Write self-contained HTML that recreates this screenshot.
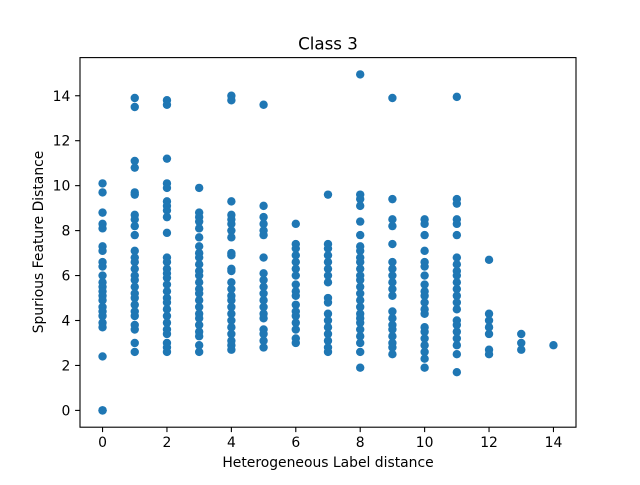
<!DOCTYPE html>
<html><head><meta charset="utf-8"><style>
body{margin:0;background:#fff;}
svg text{font-family:"DejaVu Sans","Liberation Sans",sans-serif;fill:#000;}
</style></head><body>
<svg id="chart" width="640" height="480" xmlns="http://www.w3.org/2000/svg">
<rect width="640" height="480" fill="#fff"/>
<text x="328" y="49.5" font-size="16.7" text-anchor="middle">Class 3</text>
<g id="marks"></g>
<rect x="80" y="57.6" width="496" height="369.6" fill="none" stroke="#000" stroke-width="1.1"/>
<g id="xt"></g>
<g id="yt"></g>
<text x="328" y="467" font-size="13.9" text-anchor="middle">Heterogeneous Label distance</text>
<text transform="translate(43,242) rotate(-90)" font-size="13.9" text-anchor="middle">Spurious Feature Distance</text>
</svg>
<script>
const xTicks=[0,2,4,6,8,10,12,14];
const yTicks=[0,2,4,6,8,10,12,14];
const col0=[10.1,9.7,8.8,8.3,8.1,7.3,7.1,6.6,6.4,6.0,5.7,5.5,5.3,5.1,4.9,4.6,4.4,4.2,3.9,3.7,2.4,0,0,0];
const col1=[13.9,13.5,11.1,10.8,9.7,9.6,8.7,8.5,8.2,7.8,7.1,6.8,6.6,6.3,6.0,5.8,5.5,5.2,5.0,4.7,4.4,4.2,3.8,3.6,3.0,2.6];
const col2=[13.8,13.6,11.2,10.1,9.9,9.3,9.1,8.9,8.6,7.9,6.8,6.6,6.3,6.1,5.9,5.6,5.3,5.0,4.8,4.5,4.2,3.9,3.6,3.4,3.0,2.8,2.6];
const col3=[9.9,8.8,8.6,8.4,8.1,7.7,7.3,7.0,6.8,6.5,6.2,6.0,5.7,5.4,5.2,4.9,4.6,4.3,4.1,3.8,3.5,3.3,2.9,2.6];
const col4=[14.0,13.8,9.3,8.7,8.5,8.3,8.0,7.7,7.0,6.9,6.3,6.2,5.7,5.4,5.1,4.9,4.6,4.3,4.0,3.7,3.4,3.1,2.9,2.7];
const col5=[13.6,9.1,8.6,8.3,8.0,7.8,6.8,6.1,5.8,5.5,5.2,4.9,4.6,4.3,4.1,3.6,3.4,3.1,2.8];
const col6=[8.3,7.4,7.2,6.9,6.6,6.3,6.0,5.6,5.3,5.1,4.7,4.4,4.2,3.9,3.6,3.2,3.0];
const col7=[9.6,7.4,7.2,6.9,6.6,6.3,6.0,5.7,5.0,4.8,4.3,4.0,3.7,3.4,3.1,2.8,2.6];
const col8=[14.95,9.6,9.4,9.1,8.4,7.8,7.3,7.1,6.8,6.6,6.3,6.0,5.8,5.5,5.2,4.9,4.6,4.3,4.1,3.9,3.6,3.3,3.0,2.6,1.9];
const col9=[13.9,9.4,8.5,8.2,7.4,6.6,6.3,6.0,5.7,5.4,5.1,4.4,4.1,3.8,3.6,3.3,3.0,2.8,2.5];
const col10=[8.5,8.3,7.8,7.1,6.6,6.4,6.0,5.6,5.3,5.1,4.8,4.5,4.3,3.7,3.5,3.2,2.9,2.6,2.3,1.9];
const col11=[13.95,9.4,9.2,8.5,8.3,7.8,6.8,6.5,6.2,6.0,5.7,5.4,5.1,4.8,4.5,4.0,3.8,3.5,3.2,2.9,2.5,1.7];
const col12=[6.7,4.3,4.0,3.7,3.4,2.7,2.5];
const col13=[3.4,3.0,2.7];
const col14=[2.9];
const columns=[col0,col1,col2,col3,col4,col5,col6,col7,col8,col9,col10,col11,col12,col13,col14];

const NS="http://www.w3.org/2000/svg";
const xMin=-0.7,xMax=14.7,yMin=-0.7475,yMax=15.6975;
const L=80,R=576,T=57.6,B=427.2;
function xs(v){return L+(v-xMin)/(xMax-xMin)*(R-L);}
function ys(v){return B-(v-yMin)/(yMax-yMin)*(B-T);}
function mk(t,a){const e=document.createElementNS(NS,t);for(const k in a)e.setAttribute(k,a[k]);return e;}
const marks=document.getElementById('marks');
columns.forEach((col,xi)=>{col.forEach(v=>{
  const c=mk('circle',{cx:xs(xi),cy:ys(v),r:4.2,fill:'#1f77b4'});
  
  
  marks.appendChild(c);
});});
const xt=document.getElementById('xt');
xTicks.forEach(t=>{
  const l=mk('line',{x1:xs(t),x2:xs(t),y1:B,y2:B+4.9,stroke:'#000','stroke-width':1.1});
  
  
  xt.appendChild(l);
  const s=mk('text',{x:xs(t),y:B+20,'font-size':13.9,'text-anchor':'middle'});
  
  
  s.textContent=t;xt.appendChild(s);
});
const yt=document.getElementById('yt');
yTicks.forEach(t=>{
  const l=mk('line',{x1:L-4.9,x2:L,y1:ys(t),y2:ys(t),stroke:'#000','stroke-width':1.1});
  
  
  yt.appendChild(l);
  const s=mk('text',{x:L-9.7,y:ys(t)+5,'font-size':13.9,'text-anchor':'end'});
  
  
  s.textContent=t;yt.appendChild(s);
});
</script>
</body></html>
